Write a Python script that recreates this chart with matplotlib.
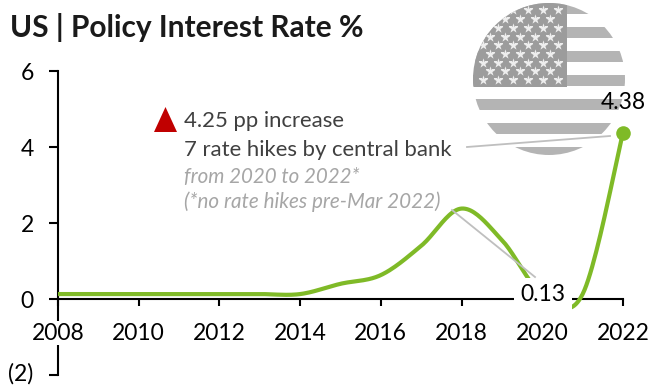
import matplotlib
matplotlib.use("Agg")
import matplotlib.pyplot as plt
import numpy as np
from matplotlib.patches import Circle, Rectangle
from matplotlib.transforms import ScaledTranslation

plt.rcParams['font.family'] = ['Lato', 'DejaVu Sans']

years = [2008, 2009, 2010, 2011, 2012, 2013, 2014, 2015, 2016, 2017, 2018, 2019, 2020, 2021, 2022]
rates = [0.13, 0.13, 0.13, 0.13, 0.13, 0.13, 0.13, 0.40, 0.63, 1.40, 2.38, 1.55, 0.13, 0.13, 4.38]
x_ticks = [2008, 2010, 2012, 2014, 2016, 2018, 2020, 2022]
y_ticks = [-2, 0, 2, 4, 6]
y_labels = ['(2)', '0', '2', '4', '6']

GREEN = '#7fba27'
WIDTH, HEIGHT = 662, 386


def smooth(xs, ys, n=24):
    # Catmull-Rom through the yearly values, like a spreadsheet smoothed line
    xs = np.array(xs, dtype=float)
    ys = np.array(ys, dtype=float)
    px = np.r_[xs[0], xs, xs[-1]]
    py = np.r_[ys[0], ys, ys[-1]]
    out_x, out_y = [], []
    for i in range(1, len(px) - 2):
        t = np.linspace(0, 1, n)
        for p, out in ((px, out_x), (py, out_y)):
            a, b, c, d = p[i - 1], p[i], p[i + 1], p[i + 2]
            out.append(0.5 * (2 * b + (c - a) * t + (2 * a - 5 * b + 4 * c - d) * t**2
                              + (3 * b - a - 3 * c + d) * t**3))
    return np.concatenate(out_x), np.concatenate(out_y)


fig = plt.figure(figsize=(WIDTH / 100, HEIGHT / 100), dpi=100)

# overlay in pixel units for the flag and the notes
bg = fig.add_axes([0, 0, 1, 1], zorder=1)
bg.set_xlim(0, WIDTH)
bg.set_ylim(HEIGHT, 0)
bg.axis('off')

# greyed flag inside a circle
clip = Circle((549, 79), 76, transform=bg.transData)
for top in range(3, 160, 24):
    r = Rectangle((470, top), 160, 11, color='#b4b4b4', lw=0)
    bg.add_patch(r)
    r.set_clip_path(clip)
canton = Rectangle((470, 0), 97, 87, color='#9c9c9c', lw=0)
bg.add_patch(canton)
canton.set_clip_path(clip)
for row in range(9):
    y = 80 - row * 8.7
    x0 = 483 if row % 2 == 0 else 490
    xs = np.arange(x0, 560, 15)
    stars = bg.scatter(xs, np.full(len(xs), y), marker='*', s=55, color='#eeeeee', lw=0)
    stars.set_clip_path(clip)

ax = fig.add_axes([58 / WIDTH, 1 - 375 / HEIGHT, 565 / WIDTH, 304 / HEIGHT], zorder=2)
ax.patch.set_alpha(0)
line_x, line_y = smooth(years, rates)
ax.plot(line_x, line_y, color=GREEN, lw=3, solid_capstyle='butt', zorder=3, clip_on=False)
ax.plot(years[-1], rates[-1], 'o', color=GREEN, ms=10.5, mew=0, zorder=4, clip_on=False)

ax.set_xlim(2008, 2022)
ax.set_ylim(-2, 6)
ax.spines['top'].set_visible(False)
ax.spines['right'].set_visible(False)
ax.spines['bottom'].set_position(('data', 0))
for s in ('left', 'bottom'):
    ax.spines[s].set_linewidth(1.5)
    ax.spines[s].set_zorder(1)
ax.set_xticks(x_ticks)
ax.set_yticks(y_ticks)
ax.set_yticklabels(y_labels)
ax.tick_params(axis='x', length=5, width=1.5, pad=12, labelsize=16.5, direction='out')
ax.tick_params(axis='y', length=6.5, width=1.5, pad=11, labelsize=16.5, direction='out')
ax.xaxis.set_zorder(2)
for lab in ax.get_xticklabels():
    lab.set_bbox(dict(facecolor='white', edgecolor='none', pad=1))

# the bottom label sits a little higher so it stays inside the figure
low_label = ax.get_yticklabels()[0]
low_label.set_transform(low_label.get_transform() + ScaledTranslation(0, 3 / 100, fig.dpi_scale_trans))

ax.annotate(f'{rates[12]:.2f}', (years[12], rates[12]), xytext=(0.5, -0.5), textcoords='offset points',
            ha='center', va='center', fontsize=16.5, zorder=6,
            bbox=dict(facecolor='white', edgecolor='none', pad=4.5))
ax.annotate(f'{rates[-1]:.2f}', (years[-1], rates[-1]), xytext=(0, 21.5), textcoords='offset points',
            ha='center', va='center', fontsize=16.5, zorder=6)

# notes and leader lines on top of the plot
fg = fig.add_axes([0, 0, 1, 1], zorder=3)
fg.set_xlim(0, WIDTH)
fg.set_ylim(HEIGHT, 0)
fg.axis('off')
fg.plot([467, 610], [147, 136], color='#bfbfbf', lw=1.3)
fg.plot([452, 535], [210, 277], color='#bfbfbf', lw=1.3)
fg.fill([154, 177, 165.5], [132, 132, 107], color='#c00000', lw=0)
fg.text(10, 27, 'US | Policy Interest Rate %', fontsize=21.5, fontweight='bold', color='#1a1a1a', va='center')
fg.text(184, 121, '4.25 pp increase', fontsize=15.9, color='#404040', va='center')
fg.text(184, 150, '7 rate hikes by central bank', fontsize=15.9, color='#404040', va='center')
fg.text(184, 177, 'from 2020 to 2022*', fontsize=14.8, style='italic', color='#a6a6a6', va='center')
fg.text(184, 202, '(*no rate hikes pre-Mar 2022)', fontsize=14.9, style='italic', color='#a6a6a6', va='center')

fig.savefig('out.png', dpi=100)
